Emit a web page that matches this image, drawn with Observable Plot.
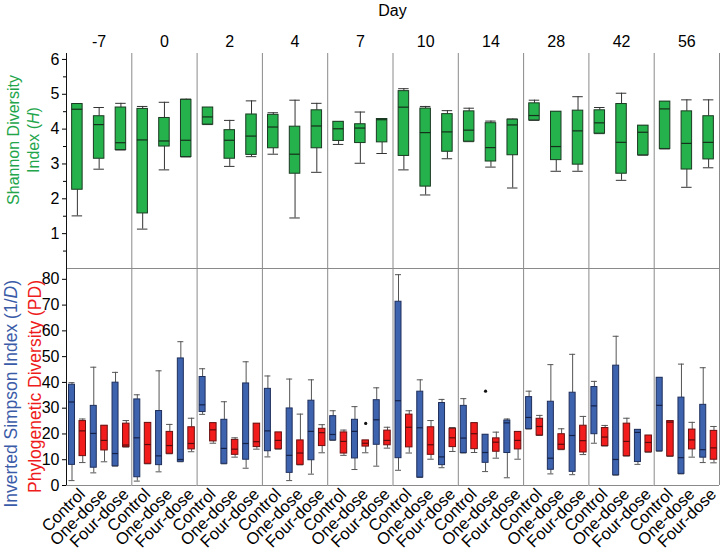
<!DOCTYPE html>
<html><head><meta charset="utf-8">
<script src="https://cdn.jsdelivr.net/npm/d3@7"></script>
<script src="https://cdn.jsdelivr.net/npm/@observablehq/plot@0.6"></script>
<style>
body{margin:0;background:#fff;font-family:"Liberation Sans",Arial,sans-serif;}
#wrap{position:relative;width:724px;height:554px;overflow:hidden;background:#fff;}
#wrap svg{position:absolute;left:0;}
.rot{position:absolute;transform:translate(-50%,-50%) rotate(-90deg);white-space:nowrap;}
</style></head><body>
<div id="wrap">
  <div id="dayTitle" style="position:absolute;left:0;width:785px;top:2px;text-align:center;font-size:16px;">Day</div>
  <div class="rot" style="left:24px;top:140px;width:200px;font-size:16px;line-height:20px;text-align:center;color:#22a54a;">Shannon Diversity<br>Index (<i>H</i>)</div>
  <div class="rot" style="left:23px;top:400px;width:240px;font-size:17.5px;line-height:24px;text-align:right;"><span style="color:#3a5ba8">Inverted Simpson Index (1/<i>D</i>)</span><br><span style="color:#ee1c1c">Phylogenetic Diversity (PD)</span></div>
</div>
<script>
const days = ["-7","0","2","4","7","10","14","28","42","56"];
const groups = ["Control","One-dose","Four-dose"];

// Shannon diversity (H): 30 values, day by day, Control / One-dose / Four-dose
const shannonMin = [1.51,2.85,3.40, 1.13,2.83,3.20, 4.13,2.93,3.21, 3.28,1.45,2.76, 3.56,3.02,3.30, 2.83,2.11,3.15, 3.64,2.91,2.31, 4.25,2.79,2.79, 3.87,2.53,3.25, 3.43,2.33,2.89];
const shannonQ1  = [2.26,3.15,3.40, 1.58,3.50,3.20, 4.13,3.15,3.26, 3.45,2.72,3.45, 3.66,3.60,3.62, 3.23,2.35,3.35, 3.64,3.07,3.25, 4.25,3.11,2.98, 3.87,2.72,3.25, 3.43,2.84,3.13];
const shannonMed = [4.57,4.13,3.61, 3.69,3.66,3.68, 4.35,3.68,3.80, 4.06,3.28,4.09, 4.01,4.03,4.27, 4.63,3.90,3.92, 3.97,3.47,4.12, 4.39,3.50,3.95, 4.18,3.62,3.91, 4.58,3.59,3.62];
const shannonQ3  = [4.72,4.37,4.62, 4.58,4.32,4.84, 4.62,3.97,4.42, 4.41,4.07,4.54, 4.21,4.14,4.29, 5.09,4.59,4.43, 4.51,4.17,4.27, 4.74,4.50,4.53, 4.54,4.72,4.10, 4.79,4.51,4.37];
const shannonMax = [4.72,4.62,4.74, 4.65,4.77,4.86, 4.62,4.25,4.81, 4.47,4.83,4.74, 4.21,4.49,4.29, 5.16,4.65,4.53, 4.60,4.23,4.29, 4.83,4.50,4.93, 4.62,5.03,4.10, 4.79,4.84,4.84];

// Inverted Simpson index (1/D)
const simpsonMin = [1.9,4.9,7.5, 1.7,5.3,9.2, 27.6,8.4,6.7, 11.1,1.9,4.4, 17.5,6.2,7.5, 5.9,3.1,6.9, 12.6,5.4,3.0, 21.9,4.5,4.2, 16.4,4.0,8.2, 13.3,4.5,8.9];
const simpsonQ1  = [8.0,6.9,7.5, 3.2,7.9,9.2, 28.5,8.4,10.0, 13.3,4.9,9.8, 17.5,10.5,15.8, 10.6,3.1,7.9, 12.6,8.8,12.6, 21.9,6.1,5.3, 19.9,4.0,9.1, 13.3,4.5,10.8];
const simpsonMed = [32.4,20.2,12.4, 18.5,11.5,10.1, 31.3,14.4,16.3, 21.2,11.7,21.0, 19.8,21.0,25.5, 32.9,22.4,11.1, 18.4,12.8,24.3, 26.4,10.6,19.4, 30.9,10.1,20.6, 31.1,10.8,13.9];
const simpsonQ3  = [39.1,30.9,39.9, 33.4,28.9,49.3, 42.1,25.5,39.6, 37.5,29.9,32.9, 26.9,25.5,33.1, 71.3,36.4,32.0, 30.9,19.7,25.2, 34.3,32.5,36.0, 38.2,46.5,21.6, 41.8,34.1,31.3];
const simpsonMax = [39.9,45.9,43.9, 35.2,44.5,55.8, 45.3,32.5,48.0, 42.5,41.3,41.0, 29.0,30.6,37.9, 81.8,41.0,33.4, 33.7,19.7,25.8, 36.6,46.9,50.9, 40.4,57.9,21.6, 41.8,47.1,45.7];

// Phylogenetic diversity (PD)
const pdMin = [8.9,9.2,14.9, 8.4,12.3,13.1, 16.4,11.0,14.1, 14.1,8.0,12.7, 11.7,12.7,14.5, 12.6,10.2,13.2, 12.8,10.6,10.2, 19.4,13.9,12.0, 15.3,11.4,12.9, 11.3,11.0,8.8];
const pdQ1  = [11.4,13.6,14.9, 8.4,12.3,14.0, 17.1,11.9,14.9, 14.1,8.0,15.3, 12.4,15.1,15.6, 14.8,11.9,14.9, 14.1,13.1,14.0, 19.4,13.9,12.8, 15.3,11.4,12.9, 11.3,14.0,10.0];
const pdMed = [21.2,17.5,15.7, 15.9,15.5,16.3, 21.6,14.1,17.0, 17.5,12.6,20.5, 17.1,16.4,17.5, 22.6,15.8,18.5, 20.1,16.8,17.5, 22.9,16.0,17.4, 18.8,17.1,16.7, 24.6,17.7,14.6];
const pdQ3  = [25.0,23.2,24.0, 24.3,20.8,22.6, 24.2,17.7,24.0, 20.6,17.5,22.0, 20.6,17.5,21.3, 27.5,22.6,22.0, 24.2,18.3,20.8, 25.9,19.9,23.2, 22.3,24.0,19.4, 25.0,21.7,21.2];
const pdMax = [25.8,23.2,25.2, 24.3,23.7,26.1, 24.2,18.5,24.0, 20.6,27.7,23.6, 21.5,17.5,22.6, 29.0,25.2,22.5, 24.2,20.7,20.8, 27.2,22.0,26.8, 23.3,26.1,19.4, 25.0,24.5,22.9];

// outliers
const simpsonOutDay = ["14"], simpsonOutGroup = ["One-dose"], simpsonOutValue = [36.6];
const pdOutDay = ["7"], pdOutGroup = ["One-dose"], pdOutValue = [24.1];

// tick values
const shannonTicks = [1, 2, 3, 4, 5, 6];
const shannonMinorTicks = [0.5, 1.5, 2.5, 3.5, 4.5, 5.5];
const lowerTicks = [0, 10, 20, 30, 40, 50, 60, 70, 80];

function rows(mn, q1, md, q3, mx) {
  return mn.map((v, i) => ({day: days[Math.floor(i / 3)], group: groups[i % 3], min: v, q1: q1[i], med: md[i], q3: q3[i], max: mx[i]}));
}
const shannon = rows(shannonMin, shannonQ1, shannonMed, shannonQ3, shannonMax);
const simpson = rows(simpsonMin, simpsonQ1, simpsonMed, simpsonQ3, simpsonMax);
const pd = rows(pdMin, pdQ1, pdMed, pdQ3, pdMax);
const simpsonOut = simpsonOutDay.map((d, i) => ({day: d, group: simpsonOutGroup[i], value: simpsonOutValue[i]}));
const pdOut = pdOutDay.map((d, i) => ({day: d, group: pdOutGroup[i], value: pdOutValue[i]}));

const W = 724, mL = 66, mR = 5;
const fw = (W - mL - mR) / days.length;
const bw = fw / 3;
const font = "Liberation Sans, Arial, sans-serif";

function box(data, {fill, stroke, left, width, med, wh}) {
  const iL = left, iR = bw - left - width, dx = left + width / 2 - bw / 2;
  const base = {fx: "day", x: "group"};
  return [
    Plot.ruleX(data, {...base, y1: "min", y2: "q1", stroke: wh, dx}),
    Plot.ruleX(data, {...base, y1: "q3", y2: "max", stroke: wh, dx}),
    Plot.tickY(data, {...base, y: "min", stroke: wh, insetLeft: iL, insetRight: iR}),
    Plot.tickY(data, {...base, y: "max", stroke: wh, insetLeft: iL, insetRight: iR}),
    Plot.barY(data, {...base, y1: "q1", y2: "q3", fill, stroke, strokeWidth: 1, insetLeft: iL, insetRight: iR}),
    Plot.tickY(data, {...base, y: "med", stroke: med, strokeWidth: 1.2, insetLeft: iL, insetRight: iR})
  ];
}

function dividers() {
  return [
    Plot.ruleX(days, {fx: d => d, x: () => "Control", dx: -bw / 2, stroke: "#8a8a8a"}),
    Plot.ruleX(["56"], {fx: d => d, x: () => "Four-dose", dx: bw / 2, stroke: "#8a8a8a"}),
    Plot.ruleX(["-7"], {fx: d => d, x: () => "Control", dx: -bw / 2, stroke: "#111"})
  ];
}

const topChart = Plot.plot({
  width: W, height: 270, marginLeft: mL, marginRight: mR, marginTop: 53, marginBottom: 2,
  style: {background: "transparent", overflow: "visible", fontFamily: font, fontSize: "16px", color: "black"},
  fx: {domain: days, padding: 0, round: false, axis: null},
  x: {domain: groups, padding: 0, round: false, axis: null},
  y: {domain: [0, 6.17], axis: null},
  marks: [
    Plot.ruleY([0], {stroke: "#8a8a8a"}),
    ...dividers(),
    Plot.axisFx({anchor: "top", tickSize: 0, tickPadding: 7, label: null, fontSize: 16}),
    Plot.axisY({ticks: shannonTicks, tickFormat: d => String(d), tickSize: 4, tickPadding: 3, label: null, fontSize: 16}),
    Plot.axisY({ticks: shannonMinorTicks, tickSize: 3, text: null, label: null}),
    ...box(shannon, {fill: "#25b14b", stroke: "#1b3a22", left: (bw - 10.5) / 2, width: 10.5, med: "#15301b", wh: "#333"})
  ]
});

const botChart = Plot.plot({
  width: W, height: 286, marginLeft: mL, marginRight: mR, marginTop: 0, marginBottom: 69,
  style: {background: "transparent", overflow: "visible", fontFamily: font, fontSize: "16px", color: "black"},
  fx: {domain: days, padding: 0, round: false, axis: null},
  x: {domain: groups, padding: 0, round: false, axis: null},
  y: {domain: [0, 84.2], axis: null},
  marks: [
    Plot.ruleY([0], {stroke: "#8a8a8a"}),
    Plot.ruleY([84.2], {stroke: "#8a8a8a"}),
    ...dividers(),
    Plot.axisY({ticks: lowerTicks, tickFormat: d => String(d), tickSize: 4, tickPadding: 3, label: null, fontSize: 16}),
    Plot.axisX({tickRotate: -45, tickSize: 0, tickPadding: 6, dx: 5, label: null, fontSize: 16.5}),
    ...box(simpson, {fill: "#3e63ae", stroke: "#1e2f5c", left: 2.5, width: 6, med: "#14224a", wh: "#555"}),
    ...box(pd, {fill: "#f21c1c", stroke: "#6a1010", left: 13, width: 6.5, med: "#5a0c0c", wh: "#555"}),
    Plot.dot(simpsonOut, {fx: "day", x: "group", y: "value", r: 1.6, fill: "#111", stroke: null, dx: 5.5 - bw / 2}),
    Plot.dot(pdOut, {fx: "day", x: "group", y: "value", r: 1.6, fill: "#111", stroke: null, dx: 16.25 - bw / 2})
  ]
});

const wrap = document.getElementById("wrap");
topChart.style.top = "0px";
botChart.style.top = "268px";
wrap.appendChild(topChart);
wrap.appendChild(botChart);
</script>
</body></html>
